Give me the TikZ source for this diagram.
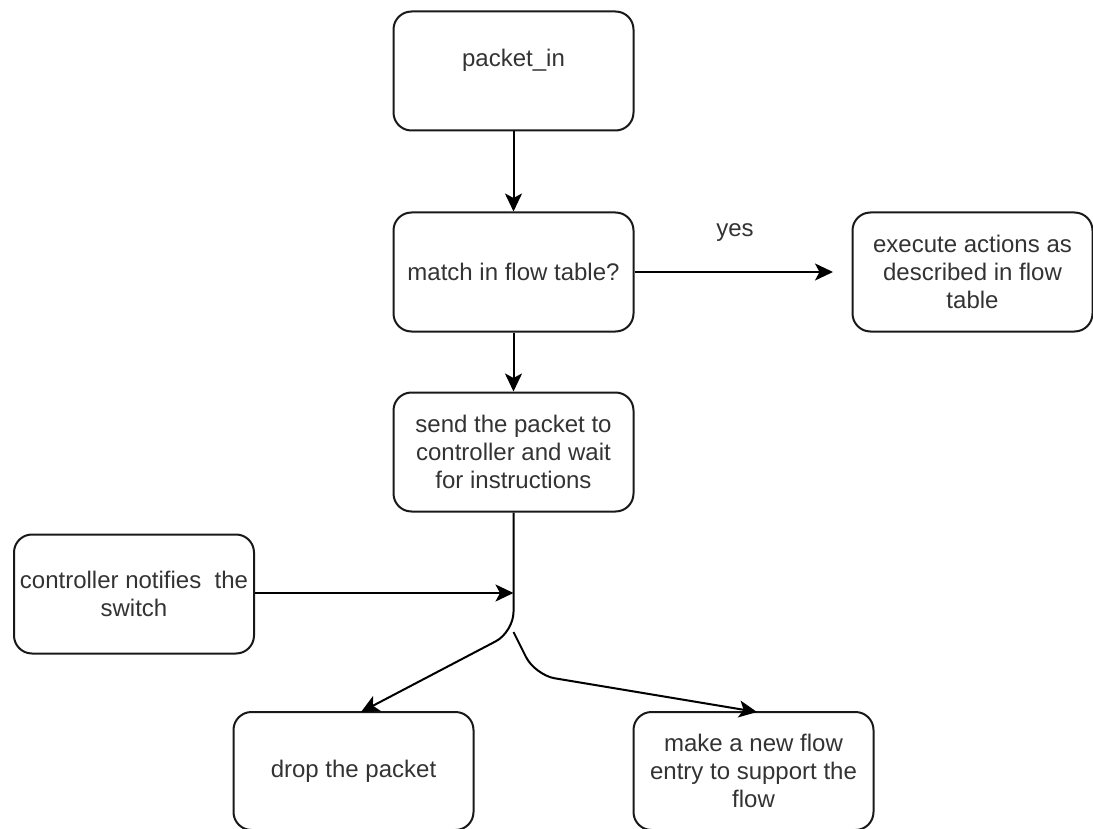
\documentclass[tikz,border=0pt]{standalone}
\usepackage{fontspec}
\setmainfont{Liberation Sans}
\usetikzlibrary{arrows.meta}
\begin{document}
\begin{tikzpicture}[x=1pt,y=-1pt,
  box/.style={draw=black!90, line width=2pt, rounded corners=18pt, minimum width=240pt, minimum height=119pt, align=center, inner sep=0pt, text=black!80, font=\fontsize{24}{28}\selectfont},
  txt/.style={align=center, text=black!80, font=\fontsize{24}{28}\selectfont, inner sep=0pt},
  conn/.style={line width=2pt, draw=black, -{Stealth[length=18pt,width=17pt,inset=4.5pt]}, rounded corners=20pt}
]
\useasboundingbox (0,0) rectangle (1093,829);
\node[box] (pin) at (513.5,71) {};
\node[txt] (pintxt) at (513.5,60) {packet\_in};
\node[box] (match) at (513.5,272) {match in flow table?};
\node[box] (exec) at (972.5,272) {execute actions as\\described in flow\\table};
\node[box] (send) at (513.5,452) {send the packet to\\controller and wait\\for instructions};
\node[box] (ctrl) at (134,594) {controller notifies\ \ the\\switch};
\node[box, minimum height=118pt] (drop) at (353.5,771) {drop the packet};
\node[box, minimum height=118pt] (make) at (753.5,771) {make a new flow\\entry to support the\\flow};
\node[txt] (yes) at (735,233) {yes};

\coordinate (yesend) at (833,272);
\coordinate (join) at (513.5,593);
\coordinate (split) at (513.5,632);
\coordinate (bend) at (535,675);
\coordinate (droptip) at (361,712);
\coordinate (maketip) at (757,712);

\draw[conn] (pin) -- (match);
\draw[conn] (match) -- (send);
\draw[conn] (match.east) -- (yesend);
\draw[conn] (ctrl.east |- join) -- (join);
\draw[conn] (send.south) -- (split) -- (droptip);
\draw[conn] (split) -- (bend) -- (maketip);
\end{tikzpicture}
\end{document}
